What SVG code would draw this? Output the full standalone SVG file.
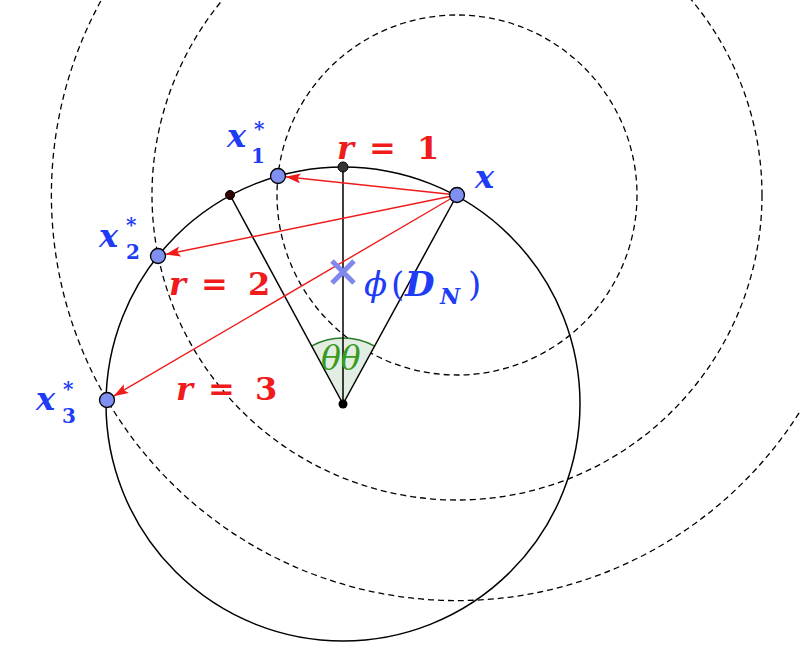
<svg xmlns="http://www.w3.org/2000/svg" width="800" height="656" viewBox="0 0 800 656">
<defs>
<style>
.dash{fill:none;stroke:#000;stroke-width:1.3;stroke-dasharray:6 4}
.solid{fill:none;stroke:#000;stroke-width:1.5}
.arrow{stroke:#f01c1c;stroke-width:1.4;fill:none;marker-end:url(#ah)}
.pt{fill:#8090f0;stroke:#000;stroke-width:1.3}
.blue{fill:#1e3cf5;font-family:"DejaVu Serif","Liberation Serif",serif}
.red{fill:#f01c1c;font-family:"DejaVu Serif","Liberation Serif",serif;font-weight:bold;font-size:32px}
.bi{font-weight:bold;font-style:italic}
.sub{font-size:20px;font-weight:bold}
.green{fill:#3a9a1e;font-family:"DejaVu Serif","Liberation Serif",serif;font-style:italic;font-size:33px}
</style>
<marker id="ah" markerUnits="userSpaceOnUse" markerWidth="16" markerHeight="12" refX="15" refY="5" orient="auto">
<path d="M0,0 L15,5 L0,10 L3,5 z" fill="#f01c1c"/>
</marker>
</defs>
<g id="dashed-circles">
<circle class="dash" cx="457" cy="195" r="180"/>
<circle class="dash" cx="457" cy="195" r="305"/>
<circle class="dash" cx="457" cy="195" r="405.6"/>
</g>
<g id="main-circle">
<circle class="solid" cx="343" cy="404" r="237"/>
</g>
<g id="sector">
<path d="M343,404 L311.4,346.1 A66,66 0 0,1 374.6,346.1 Z" fill="#e2eee2"/>
<path d="M311.4,346.1 A66,66 0 0,1 374.6,346.1" fill="none" stroke="#2a7a2a" stroke-width="1.6"/>
</g>
<g id="connectors">
<line class="solid" x1="343" y1="404" x2="230" y2="195"/>
<line class="solid" x1="343" y1="404" x2="343" y2="167"/>
<line class="solid" x1="343" y1="404" x2="457" y2="195"/>
<line class="arrow" x1="457" y1="195" x2="285.5" y2="176.8"/>
<line class="arrow" x1="457" y1="195" x2="165.4" y2="254.5"/>
<line class="arrow" x1="457" y1="195" x2="113.5" y2="396.2"/>
</g>
<g id="center">
<circle cx="343" cy="404" r="4.5" fill="#000"/>
</g>
<g id="top-point">
<circle cx="343" cy="167" r="5" fill="#333" stroke="#000" stroke-width="1"/>
</g>
<g id="left-point">
<circle cx="230" cy="195" r="4.5" fill="#300" stroke="#000" stroke-width="1"/>
</g>
<g id="node-x">
<circle class="pt" cx="457" cy="195" r="7.5"/>
<text class="blue bi" x="475" y="188" font-size="32">x</text>
</g>
<g id="node-x1">
<circle class="pt" cx="278" cy="176" r="7.5"/>
<text class="blue" y="147"><tspan class="bi" x="227" font-size="32">x</tspan><tspan class="sub" x="251" y="163">1</tspan><tspan class="sub" x="254" y="136">*</tspan></text>
</g>
<g id="node-x2">
<circle class="pt" cx="158" cy="256" r="7.5"/>
<text class="blue" y="247"><tspan class="bi" x="99" font-size="32">x</tspan><tspan class="sub" x="126" y="259">2</tspan><tspan class="sub" x="126" y="232">*</tspan></text>
</g>
<g id="node-x3">
<circle class="pt" cx="107" cy="400" r="7.5"/>
<text class="blue" y="410"><tspan class="bi" x="36" font-size="32">x</tspan><tspan class="sub" x="62" y="423">3</tspan><tspan class="sub" x="63" y="396">*</tspan></text>
</g>
<g id="mean">
<path d="M332,261 L354,283 M354,261 L332,283" stroke="#8088f0" stroke-width="5" fill="none"/>
<text class="blue" y="296" font-size="34"><tspan x="364" font-style="italic">ϕ</tspan><tspan x="391">(</tspan><tspan x="405" class="bi">D</tspan><tspan x="440" y="304" font-size="22" class="bi">N</tspan><tspan x="468" y="296">)</tspan></text>
</g>
<g id="labels">
<text class="red" y="159"><tspan x="337" font-style="italic">r</tspan><tspan x="369">=</tspan><tspan x="417">1</tspan></text>
<text class="red" y="295"><tspan x="169" font-style="italic">r</tspan><tspan x="201">=</tspan><tspan x="248">2</tspan></text>
<text class="red" y="400"><tspan x="176" font-style="italic">r</tspan><tspan x="208">=</tspan><tspan x="255">3</tspan></text>
<text class="green" x="321" y="370">θθ</text>
</g>
</svg>
